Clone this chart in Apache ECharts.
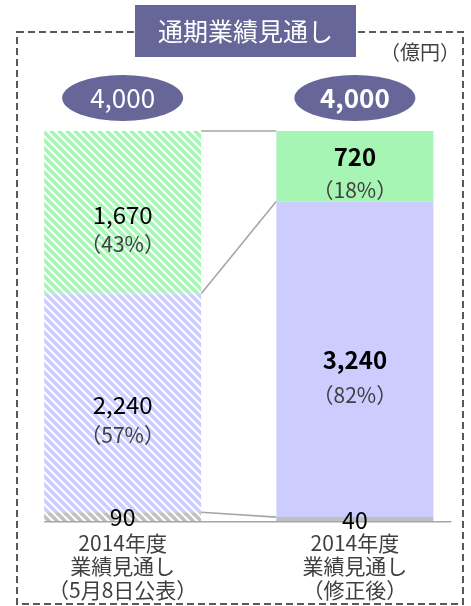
<!DOCTYPE html>
<html><head><meta charset="utf-8">
<script src="https://cdn.jsdelivr.net/npm/echarts@6/dist/echarts.min.js"></script>
<style>html,body{margin:0;padding:0;background:#fff}#c{width:471px;height:606px}</style>
</head><body><div id="c"></div>
<script>
// ---- data ----
const categories = ['2014年度\n業績見通し\n（5月8日公表）', '2014年度\n業績見通し\n（修正後）'];
const otherValues = [90, 40];
const blueValues = [2240, 3240];
const greenValues = [1670, 720];
const bluePct = ['57%', '82%'];
const greenPct = ['43%', '18%'];
const totals = [4000, 4000];
const unitLabel = '（億円）';
const titleText = '通期業績見通し';

// ---- style ----
const FONT = '"Noto Sans CJK JP", "Noto Sans", sans-serif';
const BAR_W = 157;
const GREEN = '#a6f5b5', BLUE = '#ccccff', GRAY = '#bfbfbf', NAVY = '#666699';

function stripe(color) {
  const s = 8, c = document.createElement('canvas');
  c.width = s; c.height = s;
  const g = c.getContext('2d');
  g.fillStyle = '#ffffff'; g.fillRect(0, 0, s, s);
  g.strokeStyle = color; g.lineWidth = 3.4;
  g.beginPath();
  for (let k = -1; k <= 1; k++) { g.moveTo(k * s - 2, -2); g.lineTo(k * s + s + 2, s + 2); }
  g.stroke();
  return { image: c, repeat: 'repeat' };
}
const fmt = v => v.toLocaleString('en-US');

const seg = (vals, pcts, solid, hatch, labelCfg) => vals.map((v, i) => ({
  value: v,
  itemStyle: { color: i === 0 ? hatch : solid },
  label: {
    show: true, position: 'inside', fontFamily: FONT,
    formatter: (i === 0 ? '{a|' : '{b|') + fmt(v) + '}\n{p|（' + pcts[i] + '）}',
    rich: {
      a: { fontSize: 24, color: '#000', fontFamily: FONT, lineHeight: labelCfg[i].lh },
      b: { fontSize: 24, color: '#000', fontWeight: 'bold', fontFamily: FONT, lineHeight: labelCfg[i].lh },
      p: { fontSize: 21, color: '#404040', fontFamily: FONT, lineHeight: labelCfg[i].lh }
    },
    offset: [0, labelCfg[i].dy]
  }
}));

// connector levels (cumulative boundaries)
const levels = [];
{
  let a = 0, b = 0;
  levels.push([0, a, b]);
  a += otherValues[0]; b += otherValues[1]; levels.push([0, a, b]);
  a += blueValues[0]; b += blueValues[1]; levels.push([0, a, b]);
  a += greenValues[0]; b += greenValues[1]; levels.push([0, a, b]);
}

const chart = echarts.init(document.getElementById('c'), null, { renderer: 'canvas' });
chart.setOption({
  animation: false,
  backgroundColor: '#fff',
  grid: { left: 6.5, top: 131, width: 470, height: 390, containLabel: false },
  xAxis: {
    type: 'category', data: categories,
    axisLine: { show: false }, axisTick: { show: false },
    axisLabel: { interval: 0, margin: 10, fontSize: 21, lineHeight: 23.5, color: '#404040', fontFamily: FONT }
  },
  yAxis: { type: 'value', min: 0, max: 4000, show: false, splitLine: { show: false } },
  series: [
    {
      type: 'custom', z: 1, data: levels, encode: { x: 0, y: 1 },
      renderItem: (params, api) => {
        const p0 = api.coord([0, api.value(1)]);
        const p1 = api.coord([1, api.value(2)]);
        let x1 = p0[0] + BAR_W / 2, x2 = p1[0] - BAR_W / 2;
        const base = params.dataIndex === 0;
        if (base) { x1 = p0[0] - BAR_W / 2; x2 = p1[0] + BAR_W / 2 + 18; }
        return { type: 'line', shape: { x1: x1, y1: p0[1] + (base ? 0.8 : 0), x2: x2, y2: p1[1] + (base ? 0.8 : 0) },
          style: { stroke: '#a6a6a6', lineWidth: 1.6 } };
      }
    },
    {
      name: 'other', type: 'bar', stack: 't', barWidth: BAR_W, z: 2,
      data: otherValues.map((v, i) => ({
        value: v, itemStyle: { color: i === 0 ? stripe(GRAY) : GRAY },
        label: { show: true, position: 'inside', formatter: fmt(v), fontSize: 23, color: '#000', fontFamily: FONT, offset: [0, 1] }
      }))
    },
    {
      name: 'blue', type: 'bar', stack: 't', barWidth: BAR_W, z: 2,
      data: seg(blueValues, bluePct, BLUE, stripe(BLUE), [{ lh: 30, dy: 17 }, { lh: 35, dy: 18 }])
    },
    {
      name: 'green', type: 'bar', stack: 't', barWidth: BAR_W, z: 2,
      data: seg(greenValues, greenPct, GREEN, stripe(GREEN), [{ lh: 30, dy: 17 }, { lh: 33, dy: 7 }])
    },
    {
      name: 'total', type: 'scatter', z: 5,
      symbol: 'path://M0 50A50 50 0 1 1 100 50A50 50 0 1 1 0 50Z',
      symbolSize: [121, 46], symbolOffset: [0, -33],
      itemStyle: { color: NAVY, opacity: 1 },
      data: totals.map((v, i) => ({
        value: v,
        label: { show: true, position: 'inside', formatter: fmt(v), color: '#fff',
          fontSize: 26, fontWeight: i === 1 ? 'bold' : 'normal', fontFamily: FONT }
      }))
    }
  ],
  graphic: [
    { type: 'rect', z: 0, shape: { x: 17, y: 32, width: 446, height: 572 },
      style: { fill: null, stroke: '#595959', lineWidth: 2, lineDash: [7, 4] } },
    { type: 'rect', z: 10, shape: { x: 135, y: 5, width: 221, height: 52 }, style: { fill: NAVY } },
    { type: 'text', z: 11, x: 245.5, y: 31,
      style: { text: titleText, fill: '#fff', fontSize: 25, fontFamily: FONT, align: 'center', verticalAlign: 'middle' } },
    { type: 'text', z: 11, x: 460, y: 52,
      style: { text: unitLabel, fill: '#404040', fontSize: 20, fontFamily: FONT, align: 'right', verticalAlign: 'middle' } }
  ]
});
</script>
</body></html>
